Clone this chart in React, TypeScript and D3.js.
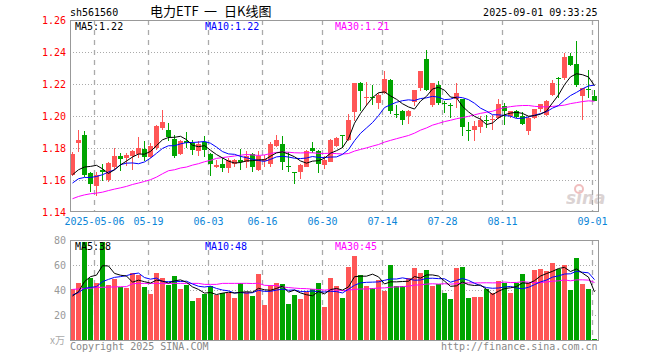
import React from 'react';
import * as d3 from 'd3';

const dates = [
  '2025-04-25','2025-04-28','2025-04-29','2025-04-30',
  '2025-05-06','2025-05-07','2025-05-08','2025-05-09',
  '2025-05-12','2025-05-13','2025-05-14','2025-05-15','2025-05-16',
  '2025-05-19','2025-05-20','2025-05-21','2025-05-22','2025-05-23',
  '2025-05-26','2025-05-27','2025-05-28','2025-05-29','2025-05-30',
  '2025-06-03','2025-06-04','2025-06-05','2025-06-06',
  '2025-06-09','2025-06-10','2025-06-11','2025-06-12','2025-06-13',
  '2025-06-16','2025-06-17','2025-06-18','2025-06-19','2025-06-20',
  '2025-06-23','2025-06-24','2025-06-25','2025-06-26','2025-06-27',
  '2025-06-30','2025-07-01','2025-07-02','2025-07-03','2025-07-04',
  '2025-07-07','2025-07-08','2025-07-09','2025-07-10','2025-07-11',
  '2025-07-14','2025-07-15','2025-07-16','2025-07-17','2025-07-18',
  '2025-07-21','2025-07-22','2025-07-23','2025-07-24','2025-07-25',
  '2025-07-28','2025-07-29','2025-07-30','2025-07-31','2025-08-01',
  '2025-08-04','2025-08-05','2025-08-06','2025-08-07','2025-08-08',
  '2025-08-11','2025-08-12','2025-08-13','2025-08-14','2025-08-15',
  '2025-08-18','2025-08-19','2025-08-20','2025-08-21','2025-08-22',
  '2025-08-25','2025-08-26','2025-08-27','2025-08-28','2025-08-29',
  '2025-09-01',
];

const open = [
  1.1633,1.1835,1.1883,1.1644,1.1566,1.1664,1.1602,1.1685,1.1747,1.1733,
  1.1747,1.1764,1.1796,1.1747,1.1800,1.1925,1.1914,1.1856,1.1762,1.1846,
  1.1831,1.1785,1.1835,1.1764,1.1685,1.1702,1.1679,1.1702,1.1727,1.1710,
  1.1765,1.1665,1.1717,1.1702,1.1815,1.1827,1.1685,1.1653,1.1654,1.1685,
  1.1800,1.1779,1.1696,1.1717,1.1814,1.1881,1.1852,1.2025,1.2206,1.2115,
  1.2118,1.2081,1.2144,1.2227,1.2015,1.2033,1.1998,1.2092,1.2171,1.2358,
  1.2071,1.2192,1.2079,1.2069,1.2108,1.2108,1.1913,1.1908,1.1935,1.1978,
  1.1979,1.1988,1.2060,1.1998,1.2033,1.1998,1.1908,1.1988,1.2046,1.2008,
  1.2129,1.2240,1.2238,1.2373,1.2325,1.2127,1.2166,1.2127,
];
const high = [
  1.1777,1.1914,1.1904,1.1648,1.1648,1.1700,1.1710,1.1800,1.1769,1.1769,
  1.1789,1.1866,1.1846,1.1831,1.1946,1.2035,1.1956,1.1883,1.1852,1.1898,
  1.1852,1.1842,1.1873,1.1770,1.1727,1.1738,1.1738,1.1729,1.1794,1.1779,
  1.1769,1.1779,1.1758,1.1835,1.1883,1.1877,1.1773,1.1653,1.1702,1.1790,
  1.1835,1.1790,1.1748,1.1856,1.1870,1.1883,1.2013,1.2206,1.2213,1.2210,
  1.2196,1.2144,1.2279,1.2231,1.2067,1.2035,1.2040,1.2165,1.2280,1.2415,
  1.2206,1.2217,1.2092,1.2081,1.2206,1.2108,1.1963,1.1967,1.1998,1.2008,
  1.2008,1.2108,1.2081,1.2033,1.2040,1.2025,1.1998,1.2046,1.2075,1.2098,
  1.2227,1.2242,1.2394,1.2394,1.2470,1.2177,1.2290,1.2160,
];
const low = [
  1.1627,1.1773,1.1616,1.1522,1.1497,1.1591,1.1590,1.1664,1.1654,1.1685,
  1.1660,1.1738,1.1716,1.1738,1.1789,1.1914,1.1841,1.1738,1.1758,1.1800,
  1.1758,1.1747,1.1744,1.1627,1.1675,1.1648,1.1644,1.1681,1.1660,1.1675,
  1.1648,1.1654,1.1681,1.1681,1.1806,1.1660,1.1648,1.1577,1.1606,1.1681,
  1.1769,1.1644,1.1671,1.1710,1.1808,1.1800,1.1846,1.1971,1.2029,1.2060,
  1.2071,1.2046,1.2138,1.2013,1.1988,1.1942,1.1950,1.2060,1.2158,1.2154,
  1.2054,1.2071,1.2019,1.1988,1.2050,1.1873,1.1846,1.1842,1.1894,1.1925,
  1.1915,1.1983,1.1946,1.1988,1.1988,1.1946,1.1879,1.1981,1.2025,1.1998,
  1.2123,1.2113,1.2227,1.2310,1.2179,1.1975,1.2112,1.2098,
];
const close = [
  1.1764,1.1852,1.1633,1.1577,1.1633,1.1654,1.1706,1.1752,1.1727,1.1754,
  1.1779,1.1800,1.1747,1.1814,1.1935,1.1960,1.1873,1.1752,1.1846,1.1831,
  1.1785,1.1827,1.1785,1.1702,1.1696,1.1679,1.1727,1.1727,1.1717,1.1748,
  1.1685,1.1752,1.1731,1.1827,1.1852,1.1717,1.1681,1.1650,1.1696,1.1783,
  1.1779,1.1696,1.1727,1.1852,1.1862,1.1877,1.1977,1.2206,1.2158,1.2119,
  1.2115,1.2129,1.2231,1.2033,1.2013,1.1977,1.2029,1.2165,1.2279,1.2165,
  1.2206,1.2081,1.2075,1.2065,1.2144,1.1935,1.1910,1.1935,1.1977,1.1975,
  1.1983,1.2075,1.2029,1.2029,1.1998,1.1950,1.1988,1.2046,1.2075,1.2096,
  1.2206,1.2235,1.2367,1.2317,1.2196,1.2175,1.2164,1.2098,
];
// volume in 万手
const volume = [
  40.5,45.3,78.4,49.9,45.3,78.4,44.0,48.8,42.7,41.9,
  53.9,52.0,42.7,37.1,53.9,49.9,44.0,51.5,41.1,44.3,
  31.5,33.9,36.8,43.5,36.0,37.3,37.3,33.9,45.9,38.7,
  35.2,53.1,28.0,44.0,45.9,44.8,28.8,36.0,32.8,38.7,
  40.5,45.9,26.7,49.9,43.2,33.9,58.7,67.5,52.0,43.2,
  41.9,48.0,39.2,60.3,43.2,43.2,49.3,57.9,53.9,56.0,
  43.2,44.8,37.9,32.8,57.9,58.7,33.9,34.7,34.7,40.5,
  37.9,47.2,45.3,37.9,45.3,52.8,45.3,56.0,56.5,55.2,
  61.6,56.8,60.3,40.0,65.6,44.8,40.8,1.2,
];

// moving-average values visible before a full window exists
const priceMa5Head = [1.1633, 1.1664, 1.1681, 1.1685];
const priceMa10Head = [1.1581, 1.1608, 1.1616, 1.1616, 1.1622, 1.1633, 1.1650, 1.1664, 1.1696];
const priceMa30Head = [
  1.1483,1.1497,1.1507,1.1514,1.1518,1.1524,1.1534,1.1543,1.1551,1.1560,
  1.1572,1.1581,1.1591,1.1602,1.1618,1.1639,1.1658,1.1664,1.1675,1.1681,
  1.1693,1.1702,1.1714,1.1723,1.1735,1.1740,1.1745,1.1750,1.1755,
];
const volMa5Head = [35.2, 38.7, 46.7, 50.7];
const volMa10Head = [36.0, 38.0, 41.3, 42.1, 42.7, 46.7, 48.5, 50.1, 50.7];
const volMa30Head = [
  40.5,40.8,41.2,41.5,42.0,42.2,42.3,42.5,42.6,42.7,
  45.0,45.3,45.3,45.3,45.3,45.3,45.3,45.3,45.3,45.3,
  45.3,45.3,44.5,44.5,44.5,45.3,45.3,45.3,45.3,
];

const tickDates = ['2025-05-06','2025-05-19','2025-06-03','2025-06-16','2025-06-30','2025-07-14','2025-07-28','2025-08-11','2025-09-01'];
const tickLabels = ['2025-05-06','05-19','06-03','06-16','06-30','07-14','07-28','08-11','09-01'];
const priceTicks = [1.14, 1.16, 1.18, 1.20, 1.22, 1.24, 1.26];
const priceGrid = [1.16, 1.18, 1.20, 1.22, 1.24];
const volTicks = [20, 40, 60, 80];
const volGrid = [20, 40, 60];
const titleParts = ['电力ETF', '一', '日K线图'];

const RED = '#ff5656';
const GREEN = '#00a400';
const MONO = '"DejaVu Sans Mono", "Liberation Mono", monospace';
const CJK = '"Noto Sans CJK SC", sans-serif';

function movingAvg(values: number[], n: number, head: number[]) {
  return values.map((_, i) => (i < n - 1 ? head[i] : (d3.mean(values.slice(i - n + 1, i + 1)) as number)));
}

export default function App() {
  const L = 70, R = 598;
  const pTop = 20, pBot = 212;
  const vTop = 240, vBot = 340;

  const x = d3.scaleBand<string>().domain(dates).range([69, 597]).padding(0);
  const y = d3.scaleLinear().domain([1.14, 1.26]).range([pBot, pTop]);
  const yv = d3.scaleLinear().domain([0, 80]).range([vBot, vTop]);
  const cx = (d: string) => (x(d) as number) + 3;

  const pMa5 = movingAvg(close, 5, priceMa5Head);
  const pMa10 = movingAvg(close, 10, priceMa10Head);
  const pMa30 = movingAvg(close, 30, priceMa30Head);
  const vMa5 = movingAvg(volume, 5, volMa5Head);
  const vMa10 = movingAvg(volume, 10, volMa10Head);
  const vMa30 = movingAvg(volume, 30, volMa30Head);

  const pLine = d3.line<number>().x((_, i) => cx(dates[i]) + 0.5).y((v) => y(v));
  const vLine = d3.line<number>().x((_, i) => cx(dates[i]) + 0.5).y((v) => yv(v));

  const last = dates.length - 1;
  const fmtP = d3.format('.2f');
  const fmtV = (v: number) => String(Math.floor(v));

  const gridX = tickDates.map((d) => cx(d) - 1.5);
  const titleX = [150, 204, 224];

  return (
    <svg width={660} height={360} style={{ position: 'absolute', left: 0, top: 0, background: '#fff' }}
      fontFamily={MONO}>
      {/* header */}
      <text x={70} y={16} fontSize={10} fill="#000">sh561560</text>
      {titleParts.map((t, i) => (
        <text key={'tt' + i} x={titleX[i]} y={16} fontSize={13} fill="#000" fontFamily={CJK}>{t}</text>
      ))}
      <text x={597.5} y={16} fontSize={10} fill="#000" textAnchor="end">2025-09-01 09:33:25</text>

      {/* price grid */}
      {priceGrid.map((t) => (
        <line key={'pg' + t} x1={L} x2={R} y1={Math.round(y(t)) + 0.5} y2={Math.round(y(t)) + 0.5}
          stroke="#aaa" strokeDasharray="1,2" />
      ))}
      {gridX.map((gx, i) => (
        <line key={'pvx' + i} x1={gx} x2={gx} y1={pTop} y2={pBot} stroke="#aaa" strokeWidth={1.3} strokeDasharray="5,5" />
      ))}
      {/* volume grid */}
      {volGrid.map((t) => (
        <line key={'vg' + t} x1={L} x2={R} y1={Math.round(yv(t)) + 0.5} y2={Math.round(yv(t)) + 0.5}
          stroke="#aaa" strokeDasharray="1,2" />
      ))}
      {gridX.map((gx, i) => (
        <line key={'vvx' + i} x1={gx} x2={gx} y1={vTop} y2={vBot} stroke="#aaa" strokeWidth={1.3} strokeDasharray="5,5" />
      ))}

      {/* sina watermark */}
      <g opacity={0.45}>
        <text x={566} y={204} fontSize={17} fontStyle="italic" fontWeight="bold" fill="#b0a0a0"
          fontFamily='"DejaVu Sans", sans-serif'>sina</text>
        <circle cx={579} cy={189} r={4} fill="none" stroke="#e07070" strokeWidth={2} />
      </g>

      {/* candles */}
      {dates.map((d, i) => {
        const up = close[i] >= open[i];
        const col = up ? RED : GREEN;
        const c = cx(d);
        const yo = y(open[i]), yc = y(close[i]);
        const top = Math.round(Math.min(yo, yc));
        const h = Math.max(1, Math.round(Math.abs(yo - yc)));
        return (
          <g key={'c' + d}>
            <line x1={c + 0.5} x2={c + 0.5} y1={Math.round(y(high[i]))} y2={Math.round(y(low[i]))} stroke={col} />
            <rect x={c - 2} y={top} width={5} height={h} fill={col} />
          </g>
        );
      })}

      {/* price MAs */}
      <path d={pLine(pMa30) as string} fill="none" stroke="#ff00ff" strokeWidth={1} />
      <path d={pLine(pMa10) as string} fill="none" stroke="#0000ff" strokeWidth={1} />
      <path d={pLine(pMa5) as string} fill="none" stroke="#000" strokeWidth={1} />

      {/* volume bars */}
      {dates.map((d, i) => {
        const up = close[i] >= open[i];
        const top = Math.round(yv(volume[i]));
        return <rect key={'v' + d} x={cx(d) - 2} y={top} width={5} height={vBot - top} fill={up ? RED : GREEN} />;
      })}
      <path d={vLine(vMa30) as string} fill="none" stroke="#ff00ff" strokeWidth={1} />
      <path d={vLine(vMa10) as string} fill="none" stroke="#0000ff" strokeWidth={1} />
      <path d={vLine(vMa5) as string} fill="none" stroke="#000" strokeWidth={1} />

      {/* frames */}
      <rect x={L + 0.5} y={pTop + 0.5} width={R - L} height={pBot - pTop - 1} fill="none" stroke="#999" />
      <rect x={L + 0.5} y={vTop + 0.5} width={R - L} height={vBot - vTop} fill="none" stroke="#999" />

      {/* MA legends */}
      <text x={75} y={30} fontSize={10} fill="#000">{'MA5:' + fmtP(pMa5[last])}</text>
      <text x={205} y={30} fontSize={10} fill="#0000ff">{'MA10:' + fmtP(pMa10[last])}</text>
      <text x={335} y={30} fontSize={10} fill="#ff00ff">{'MA30:' + fmtP(pMa30[last])}</text>
      <text x={75} y={250} fontSize={10} fill="#000">{'MA5:' + fmtV(vMa5[last])}</text>
      <text x={205} y={250} fontSize={10} fill="#0000ff">{'MA10:' + fmtV(vMa10[last])}</text>
      <text x={335} y={250} fontSize={10} fill="#ff00ff">{'MA30:' + fmtV(vMa30[last])}</text>

      {/* price axis labels */}
      {priceTicks.map((t) => (
        <text key={'pt' + t} x={66} y={y(t) + 4} fontSize={10} fill="#f00" textAnchor="end">{fmtP(t)}</text>
      ))}
      {/* volume axis labels */}
      {volTicks.map((t) => (
        <text key={'vt' + t} x={66} y={yv(t) + 4} fontSize={10} fill="#999" textAnchor="end">{t}</text>
      ))}
      <text x={65} y={344} fontSize={10} fill="#aaa" textAnchor="end" fontFamily={CJK}>x万</text>

      {/* date labels */}
      {tickDates.map((d, i) => (
        <text key={'dt' + d} x={gridX[i]} y={225} fontSize={10} fill="#0c86d8" textAnchor="middle">{tickLabels[i]}</text>
      ))}

      {/* footer */}
      <text x={70} y={349.5} fontSize={10} fill="#888">Copyright 2025 SINA.COM</text>
      <text x={597.5} y={349.5} fontSize={10} fill="#888" textAnchor="end">http://finance.sina.com.cn</text>
    </svg>
  );
}
